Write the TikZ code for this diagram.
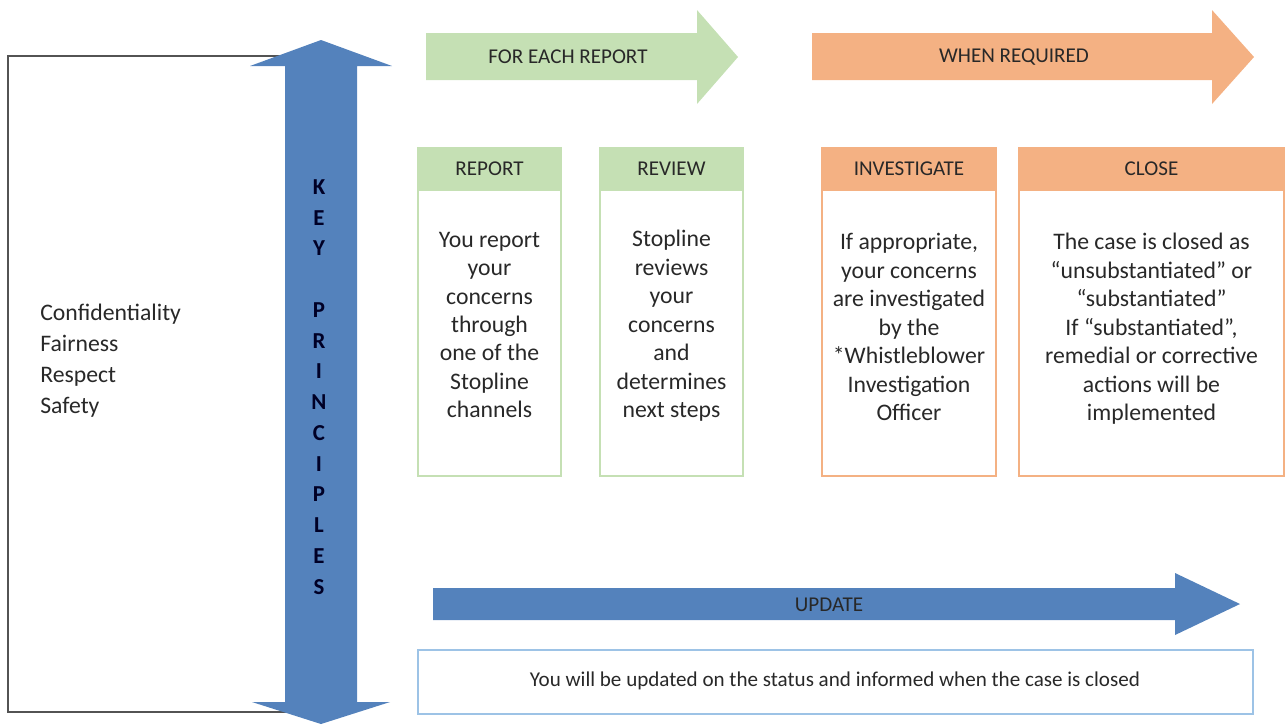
\documentclass[tikz,border=0pt]{standalone}
\usepackage{fontspec}
\setmainfont{Carlito}
\usepackage{tikz}

\definecolor{keyblue}{RGB}{84,130,188}
\definecolor{stepgreen}{RGB}{197,224,180}
\definecolor{steporange}{RGB}{244,177,131}
\definecolor{updateblue}{RGB}{157,195,230}
\definecolor{inkgray}{RGB}{40,40,40}

\begin{document}
\begin{tikzpicture}[
                    x=0.02cm,
                    y=-0.02cm,
                    body/.style={align=center, text=inkgray, font=\fontsize{13.5}{16.2}\selectfont},
                    headtext/.style={text=inkgray, font=\fontsize{12}{14}\selectfont},
                    greenbox/.style={draw=stepgreen, line width=1.1pt},
                    orangebox/.style={draw=steporange, line width=1.1pt}
                ]
                \useasboundingbox (0,0) rectangle (1287,725);

                % principles panel
                \draw[inkgray!80, line width=0.8pt] (8,56) rectangle (300,712);
                \node (values) [anchor=west, align=left, inner sep=0pt, text=inkgray,
                    font=\fontsize{13.5}{17.6}\selectfont] at (40,361)
                    {Confidentiality\\Fairness\\Respect\\Safety};

                % key principles double arrow
                \fill[keyblue] (321,40) -- (392,66) -- (357,66) -- (357,702)
                    -- (390,702) -- (321,724) -- (252,702) -- (285,702)
                    -- (285,66) -- (250,66) -- cycle;
                \node (key) [align=center, text=black!85!blue,
                    font=\bfseries\fontsize{13}{17.5}\selectfont] at (319,387)
                    {K\\E\\Y\\[17.5pt]P\\R\\I\\N\\C\\I\\P\\L\\E\\S};

                % phase arrows
                \fill[stepgreen] (426,33) -- (697,33) -- (697,10) -- (738,57)
                    -- (697,104) -- (697,80) -- (426,80) -- cycle;
                \node (each) [headtext] at (568,57) {FOR EACH REPORT};

                \fill[steporange] (812,33) -- (1212,33) -- (1212,10) -- (1254,57)
                    -- (1212,104) -- (1212,80) -- (812,80) -- cycle;
                \node (required) [headtext] at (1014,57) {WHEN REQUIRED};

                % steps
                \draw[greenbox] (418,148) rectangle (561,476);
                \fill[stepgreen] (418,148) rectangle (561,191);
                \node (report) [headtext] at (489.5,169) {REPORT};
                \node (reporttext) [body] at (489.5,325)
                    {You report\\your\\concerns\\through\\one of the\\Stopline\\channels};

                \draw[greenbox] (600,148) rectangle (743,476);
                \fill[stepgreen] (600,148) rectangle (743,191);
                \node (review) [headtext] at (671.5,169) {REVIEW};
                \node (reviewtext) [body] at (671.5,326)
                    {Stopline\\reviews\\your\\concerns\\and\\determines\\next steps};

                \draw[orangebox] (822,148) rectangle (996,476);
                \fill[steporange] (822,148) rectangle (996,191);
                \node (investigate) [headtext] at (909,169) {INVESTIGATE};
                \node (investigatetext) [body] at (909,327)
                    {If appropriate,\\your concerns\\are investigated\\by the\\*Whistleblower\\Investigation\\Officer};

                \draw[orangebox] (1019,148) rectangle (1284,476);
                \fill[steporange] (1019,148) rectangle (1284,191);
                \node (close) [headtext] at (1151.5,169) {CLOSE};
                \node (closetext) [body] at (1151.5,329)
                    {The case is closed as\\``unsubstantiated'' or\\``substantiated''\\If ``substantiated'',\\remedial or corrective\\actions will be\\implemented};

                % update
                \fill[keyblue] (433,588) -- (1175,588) -- (1175,573) -- (1240,604)
                    -- (1175,635) -- (1175,620) -- (433,620) -- cycle;
                \node (update) [headtext] at (829,605) {UPDATE};

                \draw[updateblue, line width=0.9pt] (418,650) rectangle (1253,714);
                \node (updatetext) [headtext] at (835,681)
                    {You will be updated on the status and informed when the case is closed};
            \end{tikzpicture}
\end{document}
